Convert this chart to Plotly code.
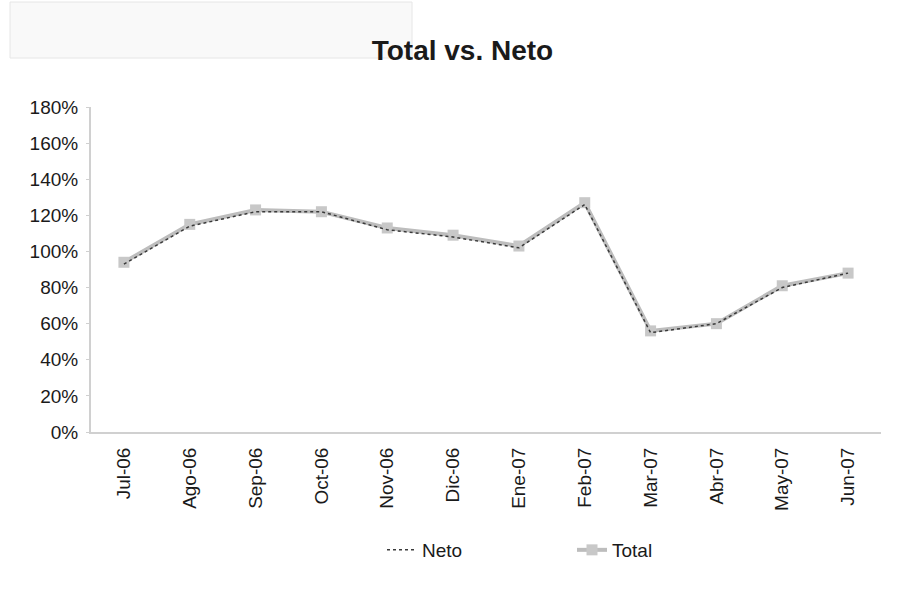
import plotly.graph_objects as go

months = ["Jul-06", "Ago-06", "Sep-06", "Oct-06", "Nov-06", "Dic-06",
          "Ene-07", "Feb-07", "Mar-07", "Abr-07", "May-07", "Jun-07"]
total = [94, 115, 123, 122, 113, 109, 103, 127, 56, 60, 81, 88]
neto = [93, 114, 122, 122, 112, 108, 102, 126, 55, 60, 80, 88]
y_ticks = [0, 20, 40, 60, 80, 100, 120, 140, 160, 180]
y_labels = [f"{v}%" for v in y_ticks]

fig = go.Figure()
fig.add_trace(go.Scatter(
    x=months, y=total, name="Total", mode="lines+markers",
    line=dict(color="#bdbdbd", width=4),
    marker=dict(symbol="square", size=11, color="#c8c8c8"),
))
fig.add_trace(go.Scatter(
    x=months, y=neto, name="Neto", mode="lines",
    line=dict(color="#3a3a3a", width=1.5, dash="dot"),
))

W, H = 898, 590
L, R, T, B = 91, 17, 107, 158
pw, ph = W - L - R, H - T - B

fig.update_layout(
    width=W, height=H,
    margin=dict(l=L, r=R, t=T, b=B),
    paper_bgcolor="white", plot_bgcolor="white",
    font=dict(family="Liberation Sans, Arial, sans-serif", size=19, color="#1a1a1a"),
    title=dict(text="<b>Total vs. Neto</b>", x=0.515, xanchor="center",
               y=1 - 50 / H, yanchor="middle",
               font=dict(size=28, color="#1a1a1a")),
    showlegend=True,
    legend=dict(orientation="h", traceorder="reversed",
                x=(382 - L) / pw, xanchor="left",
                y=-(550 - (T + ph)) / ph, yanchor="middle",
                entrywidth=145, entrywidthmode="pixels",
                font=dict(size=19), bgcolor="rgba(0,0,0,0)"),
    xaxis=dict(type="category", range=[-0.5, 11.5], tickangle=-90, showgrid=False,
               showline=True, linecolor="#d0d0d0", linewidth=2,
               ticks="", ticklabelstandoff=6, tickfont=dict(size=19), automargin=False),
    yaxis=dict(range=[0, 180], tickmode="array", tickvals=y_ticks, ticktext=y_labels,
               showgrid=False, showline=True, linecolor="#d0d0d0", linewidth=2,
               ticks="outside", ticklen=3, tickcolor="#d0d0d0", ticklabelstandoff=4,
               tickfont=dict(size=19), automargin=False, zeroline=False),
    shapes=[dict(type="rect", xref="paper", yref="paper",
                 x0=(10 - L) / pw, x1=(412 - L) / pw,
                 y0=1 + (T - 58) / ph, y1=1 + (T - 2) / ph,
                 line=dict(color="#e6e6e6", width=1), fillcolor="#f9f9f9",
                 layer="below")],
)

fig.write_html("out.html")
